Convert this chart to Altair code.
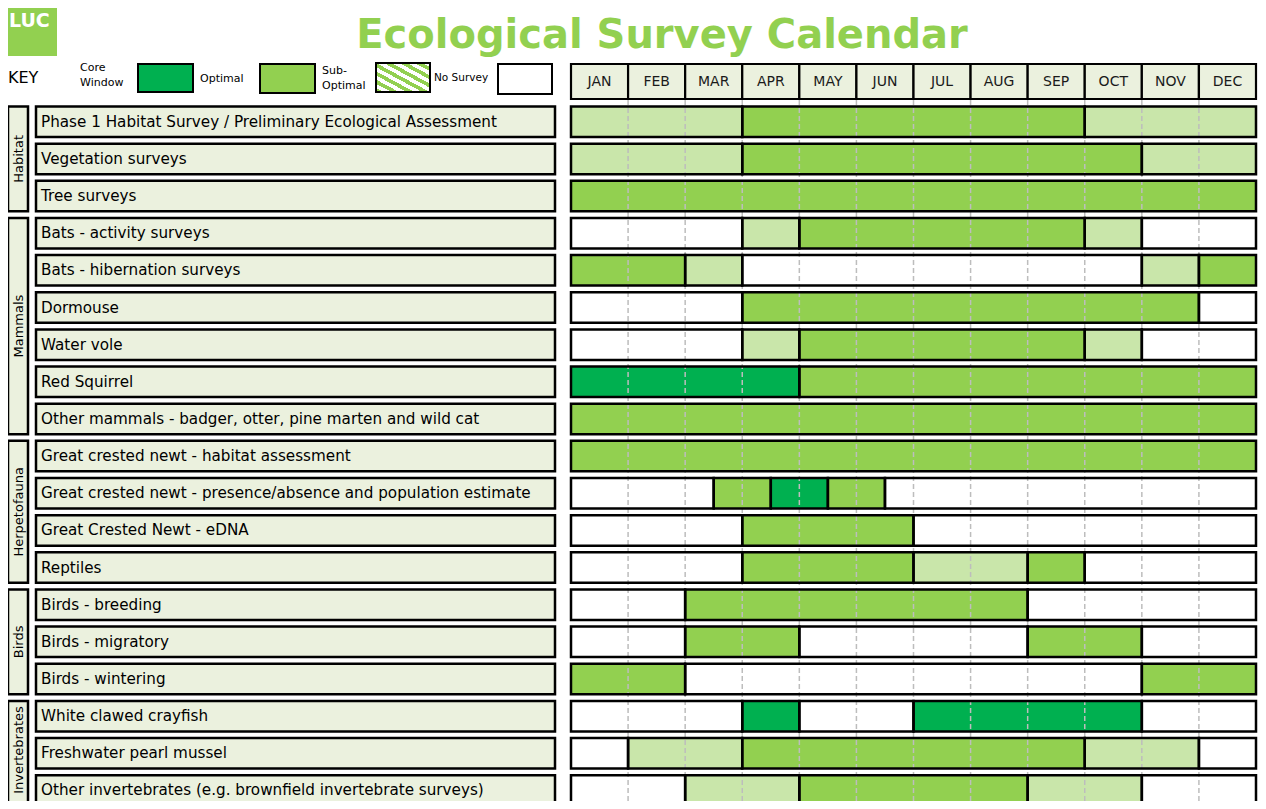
import altair as alt
import pandas as pd

# ---------------- data ----------------
MONTHS = ["JAN", "FEB", "MAR", "APR", "MAY", "JUN", "JUL", "AUG", "SEP", "OCT", "NOV", "DEC"]

GROUPS = ["Habitat", "Mammals", "Herpetofauna", "Birds", "Invertebrates"]
GROUP_SIZES = [3, 6, 4, 3, 3]

SURVEYS = [
    "Phase 1 Habitat Survey / Preliminary Ecological Assessment",
    "Vegetation surveys",
    "Tree surveys",
    "Bats - activity surveys",
    "Bats - hibernation surveys",
    "Dormouse",
    "Water vole",
    "Red Squirrel",
    "Other mammals - badger, otter, pine marten and wild cat",
    "Great crested newt - habitat assessment",
    "Great crested newt - presence/absence and population estimate",
    "Great Crested Newt - eDNA",
    "Reptiles",
    "Birds - breeding",
    "Birds - migratory",
    "Birds - wintering",
    "White clawed crayfish",
    "Freshwater pearl mussel",
    "Other invertebrates (e.g. brownfield invertebrate surveys)",
]

# (start month, end month, status) with months counted 0..12
# C = core window, O = optimal, S = sub-optimal, N = no survey
SEGMENTS = [
    [(0, 3, "S"), (3, 9, "O"), (9, 12, "S")],
    [(0, 3, "S"), (3, 10, "O"), (10, 12, "S")],
    [(0, 12, "O")],
    [(0, 3, "N"), (3, 4, "S"), (4, 9, "O"), (9, 10, "S"), (10, 12, "N")],
    [(0, 2, "O"), (2, 3, "S"), (3, 10, "N"), (10, 11, "S"), (11, 12, "O")],
    [(0, 3, "N"), (3, 11, "O"), (11, 12, "N")],
    [(0, 3, "N"), (3, 4, "S"), (4, 9, "O"), (9, 10, "S"), (10, 12, "N")],
    [(0, 4, "C"), (4, 12, "O")],
    [(0, 12, "O")],
    [(0, 12, "O")],
    [(0, 2.5, "N"), (2.5, 3.5, "O"), (3.5, 4.5, "C"), (4.5, 5.5, "O"), (5.5, 12, "N")],
    [(0, 3, "N"), (3, 6, "O"), (6, 12, "N")],
    [(0, 3, "N"), (3, 6, "O"), (6, 8, "S"), (8, 9, "O"), (9, 12, "N")],
    [(0, 2, "N"), (2, 8, "O"), (8, 12, "N")],
    [(0, 2, "N"), (2, 4, "O"), (4, 8, "N"), (8, 10, "O"), (10, 12, "N")],
    [(0, 2, "O"), (2, 10, "N"), (10, 12, "O")],
    [(0, 3, "N"), (3, 4, "C"), (4, 6, "N"), (6, 10, "C"), (10, 12, "N")],
    [(0, 1, "N"), (1, 3, "S"), (3, 9, "O"), (9, 11, "S"), (11, 12, "N")],
    [(0, 2, "N"), (2, 4, "S"), (4, 8, "O"), (8, 10, "S"), (10, 12, "N")],
]

TITLE = "Ecological Survey Calendar"
LOGO = "LUC"

# ---------------- styles / layout ----------------
STATUS_COLORS = {"C": "#00B050", "O": "#92D050", "S": "#C9E6AA", "N": "#FFFFFF"}
BEIGE = "#EBF1DE"
GREEN = "#92D050"
FONT = "DejaVu Sans"

W, H = 1250, 793
PAGE = 8
CAL_X0, CAL_X1 = 571, 1256
CW = (CAL_X1 - CAL_X0) / 12
ROW_Y0, PITCH, RH_PX = 106.5, 37.15, 30.5
RH = RH_PX / PITCH


def ux(px):
    return (px - CAL_X0) / CW


def uy(py):
    return (py - ROW_Y0) / PITCH


Y_BOTTOM = uy(PAGE + H)

XS = alt.Scale(domain=[ux(PAGE), ux(PAGE + W)], range=[0, W], nice=False, zero=False)
YS = alt.Scale(domain=[uy(PAGE), Y_BOTTOM], range=[0, H], nice=False, zero=False)


def rect_enc():
    return dict(
        x=alt.X("x:Q", scale=XS, axis=None),
        x2="x2:Q",
        y=alt.Y("y:Q", scale=YS, axis=None),
        y2="y2:Q",
    )


def text_enc():
    return dict(
        x=alt.X("x:Q", scale=XS, axis=None),
        y=alt.Y("y:Q", scale=YS, axis=None),
        text="t:N",
    )


layers = []

# logo
logo = pd.DataFrame([{"x": ux(8), "x2": ux(57), "y": uy(8), "y2": uy(56)}])
layers.append(alt.Chart(logo).mark_rect(fill=GREEN).encode(**rect_enc()))
layers.append(
    alt.Chart(pd.DataFrame([{"x": ux(9), "y": uy(21), "t": LOGO}]))
    .mark_text(align="left", baseline="middle", font=FONT, fontWeight="bold", fontSize=19, color="white")
    .encode(**text_enc())
)

# title
layers.append(
    alt.Chart(pd.DataFrame([{"x": ux(662), "y": uy(36), "t": TITLE}]))
    .mark_text(align="center", baseline="middle", font=FONT, fontWeight="bold", fontSize=40, color=GREEN)
    .encode(**text_enc())
)

# key
key_text = pd.DataFrame(
    [
        {"x": ux(8), "y": uy(78), "t": "KEY", "s": 16},
        {"x": ux(80), "y": uy(68), "t": "Core", "s": 11},
        {"x": ux(80), "y": uy(83), "t": "Window", "s": 11},
        {"x": ux(200), "y": uy(79), "t": "Optimal", "s": 11},
        {"x": ux(322), "y": uy(71), "t": "Sub-", "s": 11},
        {"x": ux(322), "y": uy(86), "t": "Optimal", "s": 11},
        {"x": ux(434), "y": uy(78), "t": "No Survey", "s": 10.5},
    ]
)
layers.append(
    alt.Chart(key_text)
    .mark_text(align="left", baseline="middle", font=FONT, color="black")
    .encode(**text_enc(), size=alt.Size("s:Q", scale=None, legend=None))
)
key_boxes = pd.DataFrame(
    [
        {"x": ux(138), "x2": ux(193), "y": uy(64), "y2": uy(92), "c": STATUS_COLORS["C"]},
        {"x": ux(260), "x2": ux(315), "y": uy(64), "y2": uy(93), "c": STATUS_COLORS["O"]},
        {"x": ux(498), "x2": ux(552), "y": uy(64), "y2": uy(94), "c": STATUS_COLORS["N"]},
    ]
)
layers.append(
    alt.Chart(key_boxes)
    .mark_rect(stroke="black", strokeWidth=2)
    .encode(**rect_enc(), fill=alt.Fill("c:N", scale=None, legend=None))
)
n_str = 7
stops = []
for k in range(n_str):
    a, b, c = k / n_str, (k + 0.5) / n_str, (k + 1) / n_str
    stops += [
        alt.GradientStop(offset=a, color=GREEN),
        alt.GradientStop(offset=b, color=GREEN),
        alt.GradientStop(offset=b, color="#FFFFFF"),
        alt.GradientStop(offset=c, color="#FFFFFF"),
    ]
hatch = alt.LinearGradient(gradient="linear", stops=stops, x1=0, y1=1, x2=1, y2=0)
layers.append(
    alt.Chart(pd.DataFrame([{"x": ux(376), "x2": ux(430), "y": uy(63), "y2": uy(92)}]))
    .mark_rect(fill=hatch, stroke="black", strokeWidth=2)
    .encode(**rect_enc())
)

# month header
hdr = pd.DataFrame(
    [{"x": i, "x2": i + 1, "y": uy(64), "y2": uy(99), "t": m, "xc": i + 0.5, "yc": uy(81.5)} for i, m in enumerate(MONTHS)]
)
layers.append(alt.Chart(hdr).mark_rect(fill=BEIGE, stroke="black", strokeWidth=2.2).encode(**rect_enc()))
layers.append(
    alt.Chart(hdr)
    .mark_text(align="center", baseline="middle", font=FONT, fontSize=14, color="#1a1a1a")
    .encode(x=alt.X("xc:Q", scale=XS, axis=None), y=alt.Y("yc:Q", scale=YS, axis=None), text="t:N")
)

# group boxes (label centred in the visible part of each box)
grp_rows = []
start = 0
for g, n in zip(GROUPS, GROUP_SIZES):
    y0, y1 = start, start + n - 1 + RH
    vis1 = min(y1, Y_BOTTOM - 0.05)
    grp_rows.append({"x": ux(8), "x2": ux(28), "y": y0, "y2": y1, "t": g, "xc": ux(18.5), "yc": (y0 + vis1) / 2})
    start += n
grp = pd.DataFrame(grp_rows)
layers.append(alt.Chart(grp).mark_rect(fill=BEIGE, stroke="black", strokeWidth=2.5).encode(**rect_enc()))
layers.append(
    alt.Chart(grp)
    .mark_text(align="center", baseline="middle", font=FONT, fontSize=13, angle=270, color="black")
    .encode(x=alt.X("xc:Q", scale=XS, axis=None), y=alt.Y("yc:Q", scale=YS, axis=None), text="t:N")
)

# survey label boxes
lab = pd.DataFrame(
    [
        {"x": ux(36), "x2": ux(555), "y": i, "y2": i + RH, "t": s, "xc": ux(41), "yc": i + RH / 2}
        for i, s in enumerate(SURVEYS)
    ]
)
layers.append(alt.Chart(lab).mark_rect(fill=BEIGE, stroke="black", strokeWidth=2.5).encode(**rect_enc()))
layers.append(
    alt.Chart(lab)
    .mark_text(align="left", baseline="middle", font=FONT, fontSize=15.2, color="black")
    .encode(x=alt.X("xc:Q", scale=XS, axis=None), y=alt.Y("yc:Q", scale=YS, axis=None), text="t:N")
)

# calendar cells
cells = pd.DataFrame(
    [
        {"x": a, "x2": b, "y": i, "y2": i + RH, "c": STATUS_COLORS[s]}
        for i, segs in enumerate(SEGMENTS)
        for (a, b, s) in segs
    ]
)
layers.append(
    alt.Chart(cells).mark_rect(strokeWidth=0).encode(**rect_enc(), fill=alt.Fill("c:N", scale=None, legend=None))
)

# dashed month dividers
rules = pd.DataFrame([{"x": k, "y": uy(100), "y2": Y_BOTTOM} for k in range(1, 12)])
layers.append(
    alt.Chart(rules)
    .mark_rule(color="#BDBDBD", strokeWidth=1.5, strokeDash=[5, 3])
    .encode(x=alt.X("x:Q", scale=XS, axis=None), y=alt.Y("y:Q", scale=YS, axis=None), y2="y2:Q")
)

# segment outlines
layers.append(
    alt.Chart(cells).mark_rect(fillOpacity=0, stroke="black", strokeWidth=2.5).encode(**rect_enc())
)

chart = (
    alt.layer(*layers)
    .properties(width=W, height=H, padding=0, autosize=alt.AutoSizeParams(type="none"), background="white")
    .configure_view(stroke=None)
)

chart.save("out.html", embed_options={"renderer": "svg", "actions": False})
